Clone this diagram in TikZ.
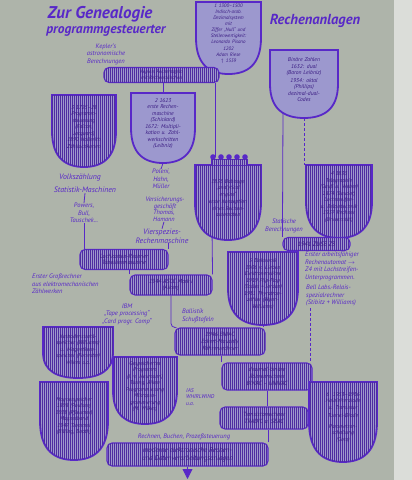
\documentclass[tikz,border=0pt]{standalone}
\usepackage{fontspec}
\setmainfont{PT Sans}
\usetikzlibrary{positioning, arrows.meta, patterns.meta}

\definecolor{paper}{RGB}{174,180,170}
\definecolor{ink}{RGB}{88,40,200}
\definecolor{lav}{RGB}{156,152,206}
\definecolor{hatchbg}{RGB}{158,152,204}
\definecolor{hatchln}{RGB}{78,44,160}

\pgfdeclarelayer{bg}
\pgfsetlayers{bg,main}

% shield: name, left, top, width, height, style, text
\newcommand{\wappen}[7]{%
  \pgfmathsetmacro\wtw{#4-7}%
  \draw[#6] (#2,#3) -- ({#2+#4},#3) -- ({#2+#4},{#3+0.5*#5})
    .. controls ({#2+#4},{#3+0.88*#5}) and ({#2+0.78*#4},{#3+#5}) .. ({#2+0.5*#4},{#3+#5})
    .. controls ({#2+0.22*#4},{#3+#5}) and (#2,{#3+0.88*#5}) .. (#2,{#3+0.5*#5}) -- cycle;
  \node[shieldtext, text width=\wtw pt] (#1) at ({#2+0.5*#4},{#3+0.44*#5}) {#7};
  \coordinate (#1-top) at ({#2+0.5*#4},#3);
  \coordinate (#1-bot) at ({#2+0.5*#4},{#3+#5});
  \coordinate (#1-w) at (#2,{#3+0.45*#5});
}

\begin{document}
\begin{tikzpicture}[
    x=1pt,
    y=-1pt,
    every node/.style={text=ink, font=\itshape\fontsize{6.5}{7.4}\selectfont},
    shieldtext/.style={align=center, inner sep=0pt, text=ink!65!black, font=\itshape\fontsize{5.6}{6.5}\selectfont},
    light/.style={draw=ink, line width=1.8pt, fill=lav},
    heavy/.style={draw=ink, line width=1.8pt, fill=hatchbg,
        postaction={pattern={Lines[angle=90, distance=2pt, line width=.5pt]}, pattern color=hatchln}},
    banner/.style={heavy, line width=1.1pt, rounded corners=5pt, inner sep=0pt, align=center,
        text=ink!65!black, font=\itshape\fontsize{6}{6.8}\selectfont},
    note/.style={align=center, inner sep=0pt},
    big/.style={note, font=\itshape\fontsize{7.8}{8.6}\selectfont},
    headline/.style={inner sep=0pt, font=\bfseries\itshape\fontsize{#1}{#1}\selectfont},
    link/.style={draw=ink, line width=.8pt},
    dashlink/.style={link, dash pattern=on 3pt off 2pt}
]
\useasboundingbox (0,0) rectangle (412,480);

%---------------- Title ----------------
\node[headline=17] (title1) at (100,14) {Zur Genealogie};
\node[headline=13.5] (title2) at (106,31) {programmgesteuerter};
\node[headline=14.5] (title3) at (315,21) {Rechenanlagen};

%---------------- Top row ----------------
\wappen{s1}{196}{2}{65}{72}{light}{\fontsize{5}{6.1}\selectfont
  1 1300--1500\\ Indisch-arab.\\ Dezimalsystem\\ mit\\ Ziffer „Null“ und\\ Stellenwertigkeit:\\
  Leonardo Pisano\\ 1202\\ Adam Riese\\ $\dagger$ 1559}
\wappen{sBin}{270}{50}{68}{68}{light}{Binäre Zahlen\\ 1632: dual\\ (Baron Leibniz)\\[1pt]
  1934: oktal\\ (Phillips)\\ dezimal-dual-\\ Codes}

\node[note] (kep) at (106,54) {Kepler's\\ astronomische\\ Berechnungen};
\node[banner, minimum width=115pt, minimum height=15pt, font=\itshape\fontsize{5}{5.6}\selectfont]
  (bKep) at (161.5,75) {Keplers Rechentafeln\\ mit Rechenstäbchen};

%---------------- Shields 2 and 3 ----------------
\wappen{s3}{52}{95}{64}{72}{heavy}{3 1725--28\\ Programm-\\ steuerung\\ (Falcon,\\ Jacquard)\\
  1890 Hollerith\\ Zähllochkarten}
\wappen{s2}{131}{93}{64}{70}{light}{2 1623\\ erste Rechen-\\ maschine\\ (Schickard)\\
  1672: Multipli-\\ kation u. Zahl-\\ werkschritten\\ (Leibniz)}

\node[big] (volk) at (80,178) {Volkszählung};
\node[big] (stat) at (85,190) {Statistik-Maschinen};
\node[note] (powers) at (84,213) {Powers,\\ Bull,\\ Tauschek...};

\node[note] (poleni) at (161,179) {Poleni,\\ Hahn,\\ Müller};
\node[note, font=\itshape\fontsize{6.5}{6.8}\selectfont] (vers) at (165,203) {Versicherungs-\\ geschäft};
\node[note, font=\itshape\fontsize{6.3}{6.8}\selectfont] (thom) at (164,216) {Thomas,\\ Hamann};
\node[big] (vier) at (162,236) {Vierspezies-\\ Rechenmaschine};

%---------------- Babbage and telegraphy ----------------
\wappen{sBab}{195}{165}{66}{75}{heavy}{1833 Babbage\\ „analytical\\ engine“\\[1pt]
  erste Konzeption\\ eines Rechen-\\ automaten}
\foreach \cx in {213,221,229,237,245} {
    \fill[ink] (\cx,157) circle (2.8pt);
}
\draw[heavy, line width=.8pt] (211,159) rectangle (247,165);

\wappen{s4}{306}{165}{66}{73}{heavy}{4 1833\\ Telegraphie\\ (Gauß u. Weber)\\
  1874 (Baudot)\\ Lochstreifen-\\ u. Relaistechnik\\ 1937 Rechner\\ (Universität)}

\node[note] (statik) at (284,226) {Statische\\ Berechnungen};
\node[banner, minimum width=67pt, minimum height=13pt, font=\itshape\fontsize{6.5}{7}\selectfont]
  (bZuse) at (316.5,244) {1941 ZUSE Z3};
\node[note, anchor=north west, align=left] (z4) at (305,252)
  {Erster arbeitsfähiger\\ Rechenautomat $\rightarrow$\\ Z4 mit Lochstreifen-\\ Unterprogrammen.};
\node[note, anchor=north west, align=left] (bell) at (306,285)
  {Bell Labs.-Relais-\\ spezialrechner\\ (Stibitz + Williams)};

%---------------- Punched cards to ASCC ----------------
\node[banner, minimum width=88pt, minimum height=20pt] (bLoch) at (124,259.5)
  {Lochkarten-Rechner\\ Tabelliermaschine};
\node[note, anchor=north west, align=left] (gross) at (32,274)
  {Erster Großrechner\\ aus elektromechanischen\\ Zählwerken};
\node[banner, minimum width=82pt, minimum height=20pt] (bASCC) at (171,285)
  {1944 ASCC Mark I\\ (Aiken)};

%---------------- Electronics ----------------
\wappen{s5}{228}{252}{70}{73}{heavy}{5 Elektronik\\ 1906 v. Lieben\\ Elektronenröhre\\
  1919 Flip-Flop\\ (Eccles + Jordan)\\ 1931 Thyratron-\\ zähler (Wynn-\\ Williams)}

\node[note, anchor=north west, align=left] (ball) at (182,309) {Ballistik\\ Schußtafeln};
\node[note] (ibm) at (127,314) {IBM\\ „Tape processing“\\ „Card progr. Comp“};
\node[banner, minimum width=90pt, minimum height=27pt] (bENIAC) at (220,341.5)
  {1946 ENIAC\\ Eckert-Mauchly\\ Röhrenrechner};

\node[banner, minimum width=90pt, minimum height=27pt] (bBin) at (267,376.5)
  {dezimal-binäre\\ Röhrenrechner\\ BINAC -- UNIVAC};
\node[note, anchor=north west, align=left, font=\itshape\fontsize{5.6}{6.6}\selectfont]
  (ias) at (186,388) {IAS\\ WHIRLWIND\\ u.a.};
\node[banner, minimum width=88pt, minimum height=22pt] (bTrans) at (264,418)
  {Transistorrechner\\ TRADIC u. SEAC};

\wappen{s6}{309}{382}{68}{80}{heavy}{6 \ 1953--1956\\ Halbleiterdiode\\ u. Transistor\\[2pt]
  Tunnel-Diode\\[4pt] Parametron-\\ schaltung\\ (Goto)}

%---------------- Storage (lower left) ----------------
\wappen{sKath}{43}{327}{70}{51}{heavy}{Kathodenstrahl-\\ speicher (Williams)\\ u. Magnetkern-\\
  speicher (Forrester)\\ Wilkes u.a.}
\wappen{sMag}{40}{382}{68}{78}{heavy}{Magnetspeicher\\ 1898 (Poulsen)\\ 1928 (Pfleumer)\\
  Magnetband\\ 1947 Trommel\\ (Billing, Booth)}
\wappen{sNeu}{113}{357}{64}{67}{heavy}{Gespeichertes\\ Programm\\ (J. v. Neumann)\\
  Turing, Aiken\\ Programmierung\\ Mikropro-\\ grammierung\\ (M. Wilkes)}

%---------------- Result ----------------
\node[note] (buch) at (184,437) {Rechnen, Buchen, Prozeßsteuerung};
\node[banner, minimum width=161pt, minimum height=23pt, font=\itshape\fontsize{7}{7.6}\selectfont]
  (bMod) at (187.5,454.5) {moderne elektronische Rechen-\\ und Datenverarbeitungsanlagen};
\coordinate (ende) at (187.5,479);

%---------------- Connections ----------------
\begin{pgfonlayer}{bg}
\fill[paper] (0,0) rectangle (412,480);
\fill[paper!45!white] (394,0) rectangle (412,480);
\coordinate (crown) at (215,157);
\coordinate (binl) at (283,112);
\coordinate (babl) at (212,228);
\coordinate (belld) at (310,308);
\draw[link] (s2-top |- bKep.south) -- (s2-top);
\draw[link] (crown |- bKep.south) -- (crown);
\draw[link] (binl) -- (bZuse.north west);
\draw[dashlink] (sBin-bot) -- (sBin-bot |- s4-top);
\draw[link] (s4-bot) -- (s4-bot |- bZuse.north);
\draw[dashlink] (belld) -- (belld |- bBin.north);
\draw[link] (stat.south) -- (powers.north);
\draw[link] (powers.south) -- (powers.south |- bLoch.north);
\draw[link] (s2-bot) -- (poleni.north);
\draw[link] (thom.south) -- (vier.north);
\draw[link] (bLoch.north east) -- (bLoch.north east |- vier.south);
\draw[link] (bASCC.north west) -- (bASCC.north west |- bLoch.south);
\draw[link] (babl) -- (bASCC.north east);
\draw[link, rounded corners=4pt] (bASCC.south) |- (bENIAC.north west);
\draw[link] (s5-bot) -- (s5-bot |- bENIAC.north);
\draw[link] (bBin.north west) -- (bBin.north west |- bENIAC.south);
\draw[link] (bBin.south) -- (bBin.south |- bTrans.north);
\draw[link] (bTrans.east) -- (bTrans.east -| s6-w);
\draw[link] (bMod.north east) -- (bMod.north east |- bTrans.south);
\end{pgfonlayer}
\draw[link, -{Triangle[width=10pt, length=10pt]}] (bMod.south) -- (ende);
\end{tikzpicture}
\end{document}
